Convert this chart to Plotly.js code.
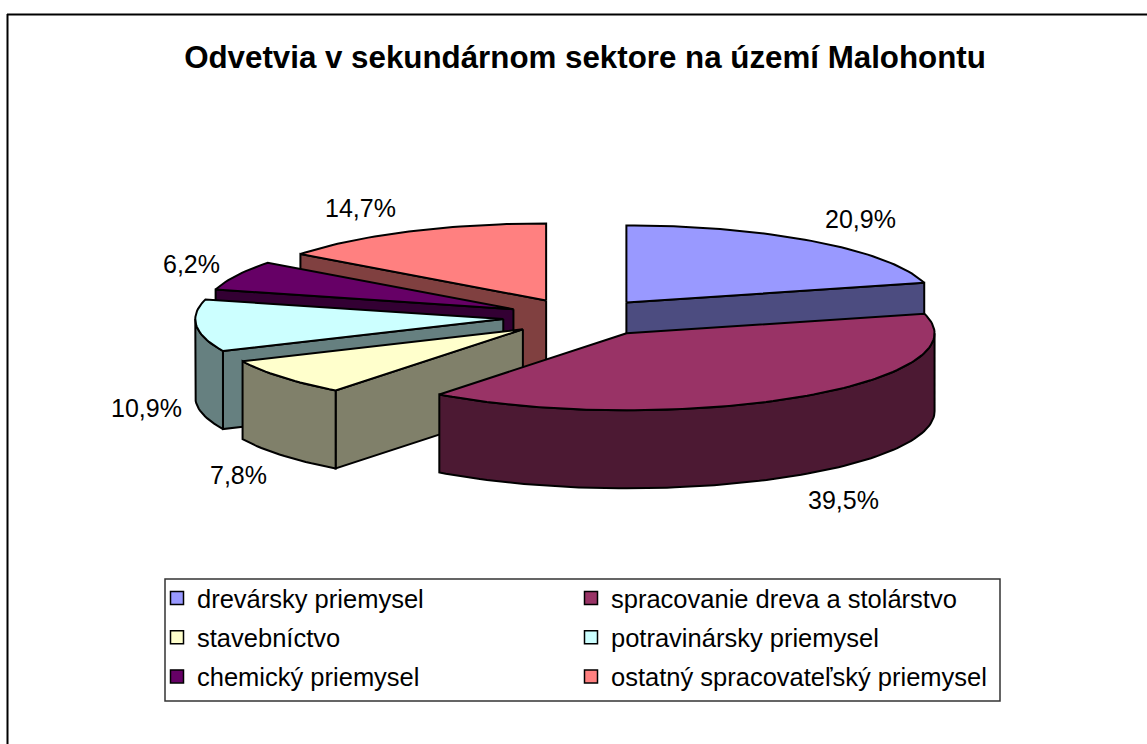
<!DOCTYPE html>
<html><head><meta charset="utf-8">
<script src="https://cdn.plot.ly/plotly-3.0.1.min.js"></script>
<style>html,body{margin:0;padding:0;background:#fff}#c{width:1147px;height:744px}</style>
</head><body><div id="c"></div>
<script>
const titleText = 'Odvetvia v sekundárnom sektore na území Malohontu';
const categories = ['drevársky priemysel','spracovanie dreva a stolárstvo','stavebníctvo','potravinársky priemysel','chemický priemysel','ostatný spracovateľský priemysel'];
const values = [20.9,39.5,7.8,10.9,6.2,14.7];
const topColors = ['#9999FF','#993366','#FFFFCC','#CCFFFF','#660066','#FF8080'];
const sideColors = ['#4C4C80','#4C1933','#80806A','#668080','#330033','#804040'];
const legendColumn = ['legend','legend2','legend','legend2','legend','legend2'];
const labelX = [860,843,238,146,191,360];
const labelY = [219,500,475,408,264,208];
const explodeX = [76,84,73,77,74,76];

// projected-pie geometry
const CX=580, CY=317.5, RX=308, RY=77, EXPLODE=76, DEPTH=78;
const rad=d=>d*Math.PI/180;
const total=values.reduce((a,b)=>a+b,0);
let acc=0;
const slices=values.map((v,i)=>{
  const a0=acc/total*360; acc+=v; const a1=acc/total*360; const m=(a0+a1)/2;
  return {i,a0,a1,m,
    ax:CX+explodeX[i]*Math.sin(rad(m)),
    ay:CY-EXPLODE*(RY/RX)*Math.cos(rad(m))};
});
const edge=(s,a)=>[s.ax+RX*Math.sin(rad(a)), s.ay-RY*Math.cos(rad(a))];
const arc=(s,a,b)=>{const n=Math.max(2,Math.ceil(Math.abs(b-a)/1.5));const p=[];
  for(let k=0;k<=n;k++)p.push(edge(s,a+(b-a)*k/n));return p;};
const traces=[];
const face=(pts,fill)=>traces.push({type:'scatter',mode:'lines',x:pts.map(p=>p[0]),y:pts.map(p=>p[1]),
  fill:'toself',fillcolor:fill,line:{color:'#000',width:2,shape:'linear'},showlegend:false,hoverinfo:'skip'});
const radial=(s,a)=>{const e=edge(s,a);
  return [[s.ax,s.ay],e,[e[0],e[1]+DEPTH],[s.ax,s.ay+DEPTH],[s.ax,s.ay]];};

slices.slice().sort((p,q)=>(-Math.cos(rad(p.m)))-(-Math.cos(rad(q.m)))).forEach(s=>{
  const side=sideColors[s.i];
  if(Math.sin(rad(s.a0))<-1e-6) face(radial(s,s.a0),side);
  if(Math.sin(rad(s.a1))>1e-6) face(radial(s,s.a1),side);
  const lo=Math.max(s.a0,90), hi=Math.min(s.a1,270);
  if(hi>lo){const t=arc(s,lo,hi);
    const b=t.slice().reverse().map(p=>[p[0],p[1]+DEPTH]);
    face(t.concat(b,[t[0]]),side);}
  const top=[[s.ax,s.ay]].concat(arc(s,s.a0,s.a1),[[s.ax,s.ay]]);
  face(top,topColors[s.i]);
});

categories.forEach((c,i)=>traces.push({type:'scatter',mode:'markers',x:[null],y:[null],name:c,
  legend:legendColumn[i],legendgroup:'g'+i,hoverinfo:'skip',
  marker:{symbol:'square',size:13,color:topColors[i],line:{color:'#000',width:1.5}}}));

const legendBase={orientation:'v',bgcolor:'rgba(0,0,0,0)',borderwidth:0,traceorder:'grouped',
  tracegroupgap:3,font:{family:'Liberation Sans, Arial, sans-serif',size:25.5,color:'#000'},
  xanchor:'left',yanchor:'top',itemclick:false,itemdoubleclick:false};
const px=x=>x/1147, py=y=>1-y/744;
const layout={width:1147,height:744,margin:{l:0,r:0,t:0,b:0,pad:0},
  paper_bgcolor:'#fff',plot_bgcolor:'#fff',showlegend:true,
  title:{text:'<b>'+titleText+'</b>',x:px(585),xanchor:'center',y:py(57),yanchor:'middle',
    font:{family:'Liberation Sans, Arial, sans-serif',size:31.3,color:'#000'}},
  xaxis:{range:[0,1147],visible:false,fixedrange:true},
  yaxis:{range:[744,0],visible:false,fixedrange:true},
  legend:Object.assign({},legendBase,{x:px(157),y:py(575)}),
  legend2:Object.assign({},legendBase,{x:px(571),y:py(575)}),
  shapes:[
    {type:'line',xref:'x',yref:'y',x0:7,x1:1147,y0:14.5,y1:14.5,line:{color:'#000',width:2},layer:'below'},
    {type:'line',xref:'x',yref:'y',x0:7.5,x1:7.5,y0:14,y1:744,line:{color:'#000',width:2},layer:'below'},
    {type:'rect',xref:'x',yref:'y',x0:165,x1:1000,y0:579,y1:701,line:{color:'#333',width:1.5},layer:'below'}
  ],
  annotations:values.map((v,i)=>({xref:'x',yref:'y',x:labelX[i],y:labelY[i],showarrow:false,
    xanchor:'center',yanchor:'middle',text:v.toFixed(1).replace('.',',')+'%',
    font:{family:'Liberation Sans, Arial, sans-serif',size:25,color:'#000'}}))
};
Plotly.newPlot('c',traces,layout,{displayModeBar:false,staticPlot:true});
</script></body></html>
